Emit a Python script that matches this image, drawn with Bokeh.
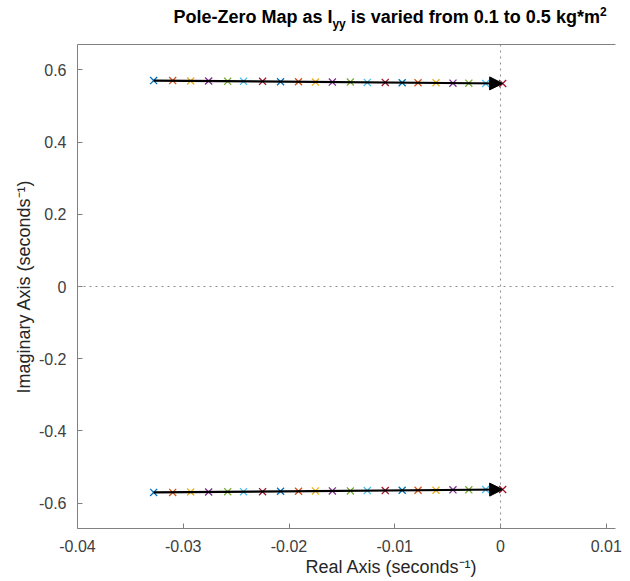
from bokeh.plotting import figure
from bokeh.models import (Range1d, FixedTicker, Span, Arrow, NormalHead, Title,
                          LinearAxis, ColumnDataSource, Div)
from bokeh.layouts import column
from bokeh.embed import file_html
from bokeh.resources import INLINE

# ---- data ----
iyy_values = [0.10, 0.12, 0.14, 0.16, 0.18, 0.20, 0.22, 0.24, 0.26, 0.28, 0.30,
              0.32, 0.34, 0.36, 0.38, 0.40, 0.42, 0.44, 0.46, 0.48, 0.50]
pole_real = [-0.0328, -0.0310, -0.0293, -0.0276, -0.0258, -0.0243, -0.0225,
             -0.0208, -0.0191, -0.0175, -0.0159, -0.0142, -0.0126, -0.0109,
             -0.0093, -0.0078, -0.0061, -0.0045, -0.0030, -0.0014, 0.0002]
pole_imag = [0.570, 0.570, 0.569, 0.569, 0.568, 0.568, 0.568, 0.567, 0.567,
             0.566, 0.566, 0.566, 0.565, 0.565, 0.564, 0.564, 0.564, 0.563,
             0.563, 0.562, 0.562]
pole_imag_conj = [-v for v in pole_imag]
x_ticks = [-0.04, -0.03, -0.02, -0.01, 0.0, 0.01]
x_tick_labels = ["-0.04", "-0.03", "-0.02", "-0.01", "0", "0.01"]
y_ticks = [-0.6, -0.4, -0.2, 0.0, 0.2, 0.4, 0.6]
y_tick_labels = ["-0.6", "-0.4", "-0.2", "0", "0.2", "0.4", "0.6"]
matlab_colors = ["#0072BD", "#D95319", "#EDB120", "#7E2F8E", "#77AC30",
                 "#4DBEEE", "#A2142F"]

W = 630
TITLE_H = 40
H = 581 - TITLE_H
LEFT, RIGHT, TOP, BOTTOM = 77, 15, 4, 53
FONT = "Liberation Sans"
AX = "#404040"

title_div = Div(
    text=('<div style="margin-left:150px;width:480px;text-align:center;'
          'white-space:nowrap;font-family:\'Liberation Sans\';font-size:18px;'
          'font-weight:bold;color:#000;line-height:22px;padding-top:6px;">'
          'Pole-Zero Map as I<sub style="font-size:12px;line-height:0;">yy</sub>'
          ' is varied from 0.1 to 0.5 kg*m'
          '<sup style="font-size:12px;line-height:0;">2</sup></div>'),
    width=W, height=TITLE_H, margin=(0, 0, 0, 0))

p = figure(width=W, height=H, output_backend="svg", toolbar_location=None,
           x_range=Range1d(-0.04, 0.01087), y_range=Range1d(-0.67, 0.67),
           min_border_left=LEFT, min_border_right=RIGHT,
           min_border_top=TOP, min_border_bottom=BOTTOM, margin=(0, 0, 0, 0))
p.grid.visible = False
p.outline_line_color = None
p.background_fill_color = "white"

for ax, ticks, labels in ((p.xaxis[0], x_ticks, x_tick_labels),
                          (p.yaxis[0], y_ticks, y_tick_labels)):
    ax.ticker = FixedTicker(ticks=ticks)
    ax.major_label_overrides = {t: l for t, l in zip(ticks, labels)}
    ax.minor_tick_line_color = None
    ax.major_tick_in = 5
    ax.major_tick_out = 0
    ax.axis_line_color = "#808080"
    ax.major_tick_line_color = "#808080"
    ax.major_label_text_font = FONT
    ax.major_label_text_font_size = "16px"
    ax.major_label_text_color = AX
    ax.major_label_standoff = 11

p.yaxis[0].axis_label = "Imaginary Axis (seconds\u207b\u00b9)"
p.yaxis[0].axis_label_text_font = FONT
p.yaxis[0].axis_label_text_font_size = "18px"
p.yaxis[0].axis_label_text_font_style = "normal"
p.yaxis[0].axis_label_text_color = "#262626"
p.yaxis[0].axis_label_standoff = 2

top_axis = LinearAxis(axis_line_color="#808080", major_tick_line_color=None,
                      minor_tick_line_color=None, major_label_text_font_size="0px",
                      ticker=FixedTicker(ticks=[]))
p.add_layout(top_axis, "above")

# x-axis label as a title placed below, shifted like the reference
p.add_layout(Title(text="Real Axis (seconds\u207b\u00b9)", align="left",
                   offset=228, standoff=0, text_font=FONT,
                   text_font_size="18px", text_font_style="normal",
                   text_color="#262626"), "below")

# dotted zero lines
p.add_layout(Span(location=0, dimension="height", line_color="#8c8c8c",
                  line_dash="dotted", line_width=1))
p.add_layout(Span(location=0, dimension="width", line_color="#8c8c8c",
                  line_dash="dotted", line_width=1))

# poles
colors = [matlab_colors[i % len(matlab_colors)] for i in range(len(iyy_values))]
src = ColumnDataSource(dict(x=pole_real + pole_real,
                            y=pole_imag + pole_imag_conj,
                            c=colors + colors))
p.scatter("x", "y", source=src, marker="x", size=10, line_width=1.3,
          line_color="c")

# arrows showing direction of increasing Iyy
for im in (pole_imag, pole_imag_conj):
    p.add_layout(Arrow(end=NormalHead(size=13, fill_color="black",
                                      line_color="black"),
                       x_start=pole_real[0], y_start=im[0],
                       x_end=pole_real[-1], y_end=im[-1],
                       line_width=2.2, line_color="black"))

layout = column(title_div, p, spacing=0, margin=(0, 0, 0, 0))
open("out.html", "w").write(file_html(layout, INLINE))
